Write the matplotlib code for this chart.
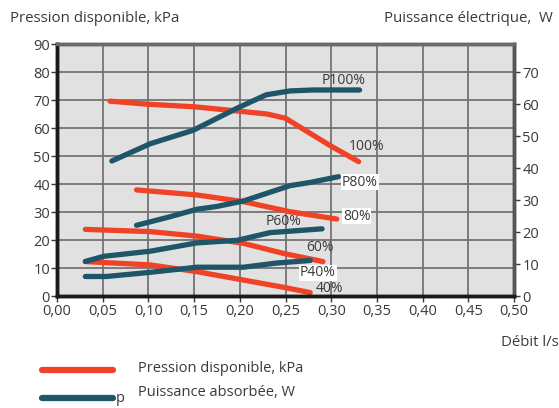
import matplotlib
matplotlib.use("Agg")
import matplotlib.pyplot as plt

plt.rcParams['font.family'] = ['Open Sans', 'DejaVu Sans']

RED = '#F04326'
BLUE = '#1F5568'
TXT = '#3a3a3a'

# Pressure curves (kPa) vs flow (l/s)
p100_x = [0.058, 0.10, 0.15, 0.20, 0.23, 0.25, 0.27, 0.30, 0.33]
p100_y = [69.6, 68.5, 67.6, 66.0, 65.0, 63.5, 59.5, 53.5, 48.0]
p80_x = [0.087, 0.153, 0.204, 0.255, 0.306]
p80_y = [37.9, 36.1, 33.7, 30.1, 27.5]
p60_x = [0.031, 0.102, 0.153, 0.204, 0.248, 0.291]
p60_y = [23.8, 23.0, 21.4, 18.8, 15.2, 12.3]
p40_x = [0.031, 0.102, 0.153, 0.204, 0.248, 0.277]
p40_y = [12.3, 11.1, 8.7, 5.7, 3.1, 1.2]

# Power curves (W) vs flow (l/s)
w100_x = [0.060, 0.102, 0.149, 0.197, 0.229, 0.255, 0.28, 0.331]
w100_y = [42.2, 47.6, 51.8, 58.7, 62.9, 64.1, 64.4, 64.4]
w80_x = [0.087, 0.12, 0.153, 0.175, 0.204, 0.255, 0.277, 0.308]
w80_y = [22.1, 24.5, 27.1, 28.0, 29.7, 34.5, 35.5, 37.3]
w60_x = [0.031, 0.051, 0.102, 0.153, 0.197, 0.233, 0.29]
w60_y = [10.8, 12.4, 14.0, 16.6, 17.4, 19.8, 21.0]
w40_x = [0.031, 0.054, 0.102, 0.153, 0.204, 0.24, 0.277]
w40_y = [6.1, 6.1, 7.4, 9.0, 9.0, 10.3, 11.1]

x_ticks = [0.00, 0.05, 0.10, 0.15, 0.20, 0.25, 0.30, 0.35, 0.40, 0.45, 0.50]
x_labels = ['0,00', '0,05', '0,10', '0,15', '0,20', '0,25', '0,30', '0,35', '0,40', '0,45', '0,50']
left_ticks = [0, 10, 20, 30, 40, 50, 60, 70, 80, 90]
right_ticks = [0, 10, 20, 30, 40, 50, 60, 70]

fig = plt.figure(figsize=(5.59, 4.08), dpi=100)
ax = fig.add_axes([0.102, 0.2745, 0.8175, 0.6175])
ax.set_facecolor('#E1E1E1')
ax.set_xlim(0, 0.5)
ax.set_ylim(0, 90)
ax.set_xticks(x_ticks)
ax.set_xticklabels(x_labels)
ax.set_yticks(left_ticks)
ax.grid(True, color='#747474', lw=1.3)
ax.set_axisbelow(True)
ax.tick_params(colors=TXT, labelsize=10.5, length=4, width=1, pad=1)
ax.tick_params(axis='x', pad=1.5)

ax2 = ax.twinx()
ax2.set_ylim(0, 78.75)
ax2.set_yticks(right_ticks)
ax2.tick_params(colors=TXT, labelsize=10.5, length=4, width=1, pad=2)

for a in (ax, ax2):
    for s in a.spines.values():
        s.set_linewidth(2.5)
    a.spines['left'].set_color('#1a1a1a')
    a.spines['bottom'].set_color('#1a1a1a')
    a.spines['top'].set_color('#6a6a6a')
    a.spines['right'].set_color('#555555')

lw = 3.8
for xs, ys in [(p100_x, p100_y), (p80_x, p80_y), (p60_x, p60_y), (p40_x, p40_y)]:
    ax.plot(xs, ys, color=RED, lw=lw, solid_capstyle='round', solid_joinstyle='round')
for xs, ys in [(w100_x, w100_y), (w80_x, w80_y), (w60_x, w60_y), (w40_x, w40_y)]:
    ax2.plot(xs, ys, color=BLUE, lw=lw, solid_capstyle='round', solid_joinstyle='round')

lab_kw = dict(color=TXT, fontsize=10, ha='left', va='center')
bb = dict(facecolor='white', edgecolor='none', pad=0.5)
fig.text(322 / 559, 1 - 80 / 408, 'P100%', **lab_kw)
fig.text(349 / 559, 1 - 146 / 408, '100%', **lab_kw)
fig.text(342 / 559, 1 - 182 / 408, 'P80%', bbox=bb, **lab_kw)
fig.text(343 / 559, 1 - 216 / 408, '80%', bbox=bb, **lab_kw)
fig.text(266 / 559, 1 - 222 / 408, 'P60%', **lab_kw)
fig.text(306 / 559, 1 - 248 / 408, '60%', **lab_kw)
fig.text(300 / 559, 1 - 273 / 408, 'P40%', bbox=bb, **lab_kw)
fig.text(316 / 559, 1 - 288 / 408, '40%', **lab_kw)

fig.text(10 / 559, 1 - 19 / 408, 'Pression disponible, kPa', color=TXT, fontsize=10.8, ha='left', va='center')
fig.text(553 / 559, 1 - 19 / 408, 'Puissance électrique,  W', color=TXT, fontsize=10.8, ha='right', va='center')
fig.text(1.0, 1 - 343 / 408, 'Débit l/s', color=TXT, fontsize=10.8, ha='right', va='center')

# Legend
lg = fig.add_axes([0, 0, 1, 1], facecolor='none')
lg.set_xlim(0, 559)
lg.set_ylim(408, 0)
lg.axis('off')
lg.plot([42, 113], [370, 370], color=RED, lw=4.5, solid_capstyle='round')
lg.plot([42, 113], [398, 398], color=BLUE, lw=4.5, solid_capstyle='round')
lg.text(116, 399, 'p', color=TXT, fontsize=10.5, ha='left', va='center')
lg.text(138, 369, 'Pression disponible, kPa', color=TXT, fontsize=10.5, ha='left', va='center')
lg.text(138, 393, 'Puissance absorbée, W', color=TXT, fontsize=10.5, ha='left', va='center')

fig.savefig('out.png', dpi=100)
